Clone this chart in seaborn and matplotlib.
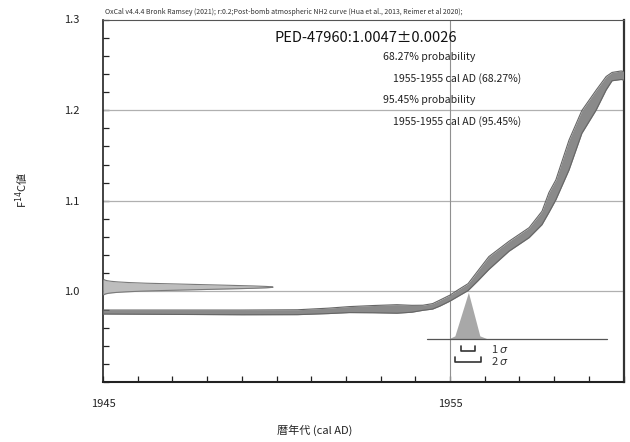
import numpy as np
import pandas as pd
import matplotlib
matplotlib.use("Agg")
import matplotlib.pyplot as plt
import seaborn as sns
from matplotlib.ticker import MultipleLocator, FixedLocator

# ---- data ----
cal_year = [1945.0, 1947.0, 1949.0, 1950.6, 1951.5, 1952.1, 1952.8, 1953.47, 1953.9,
            1954.22, 1954.5, 1954.71, 1955.0, 1955.25, 1955.52, 1955.8, 1956.12, 1956.7,
            1957.28, 1957.65, 1957.85, 1958.05, 1958.43, 1958.8, 1959.21, 1959.5,
            1959.67, 1959.93, 1960.0]
cal_f14c = [0.9772, 0.9770, 0.9768, 0.9770, 0.9785, 0.9799, 0.9804, 0.9806, 0.9808,
            0.9819, 0.9835, 0.9871, 0.9926, 0.9985, 1.0047, 1.0170, 1.0313, 1.0498,
            1.0648, 1.0810, 1.0980, 1.1120, 1.1505, 1.1870, 1.2110, 1.2297,
            1.2370, 1.2385, 1.2380]
cal_sigma = [0.0022, 0.0024, 0.0026, 0.0027, 0.0030, 0.0033, 0.0040, 0.0047, 0.0038,
             0.0028, 0.0030, 0.0033, 0.0033, 0.0036, 0.0038, 0.0055, 0.0071, 0.0055,
             0.0055, 0.0074, 0.0110, 0.0110, 0.0165, 0.0126, 0.0110, 0.0074,
             0.0046, 0.0047, 0.0047]

sample_name = "PED-47960"
sample_mean = 1.0047
sample_sigma = 0.0026

post_year = [1954.94, 1955.14, 1955.53, 1955.86, 1956.10]
post_prob = [0.0, 0.07, 1.0, 0.07, 0.0]

range_1s = (1955.32, 1955.72)
range_2s = (1955.14, 1955.89)

title_text = "OxCal v4.4.4 Bronk Ramsey (2021); r:0.2;Post-bomb atmospheric NH2 curve (Hua et al., 2013, Reimer et al 2020);"
info_lines = ["68.27% probability", "1955-1955 cal AD (68.27%)",
              "95.45% probability", "1955-1955 cal AD (95.45%)"]

# ---- style ----
sns.set_theme(style="white")
plt.rcParams['font.family'] = ['Noto Sans CJK JP', 'DejaVu Sans']
plt.rcParams['axes.unicode_minus'] = False

W, H = 630, 442
fig = plt.figure(figsize=(W / 100, H / 100), dpi=100)
L, R, T, B = 103, 623.5, 19.5, 382
ax = fig.add_axes([L / W, 1 - B / H, (R - L) / W, (B - T) / H])
ax.set_xlim(1945, 1960)
ax.set_ylim(0.9, 1.3)

# grid lines
for g in [1.0, 1.1, 1.2]:
    ax.axhline(g, color="#b0b0b0", lw=0.9, zorder=1)
ax.axvline(1955, color="#909090", lw=0.8, zorder=1)

# calibration curve band
df = pd.DataFrame({"year": cal_year, "f": cal_f14c, "s": cal_sigma})
df["lo"] = df["f"] - df["s"]
df["hi"] = df["f"] + df["s"]
ax.fill_between(df["year"], df["lo"], df["hi"], color="#8a8a8a", zorder=3, lw=0)
sns.lineplot(data=df, x="year", y="lo", ax=ax, color="#666666", lw=0.8, zorder=4,
             sort=False, estimator=None)
sns.lineplot(data=df, x="year", y="hi", ax=ax, color="#666666", lw=0.8, zorder=4,
             sort=False, estimator=None)

# measured value distribution along the y axis
yy = np.linspace(sample_mean - 3.2 * sample_sigma, sample_mean + 3.2 * sample_sigma, 200)
dens = np.exp(-0.5 * ((yy - sample_mean) / sample_sigma) ** 2)
xx = 1945 + 4.9 * dens
ax.fill_betweenx(yy, 1945, xx, color="#bdbdbd", zorder=5, lw=0)
sns.lineplot(x=xx, y=yy, ax=ax, color="#7a7a7a", lw=0.8, zorder=6, sort=False,
             estimator=None)

# calibrated distribution
base = 0.9473
scale = 0.0516
pdf = pd.DataFrame({"year": post_year, "p": post_prob})
pdf["y"] = base + pdf["p"] * scale
ax.fill_between(pdf["year"], base, pdf["y"], color="#a8a8a8", zorder=5, lw=0)
sns.lineplot(x=[1954.34, 1959.52], y=[base, base], ax=ax, color="#555555", lw=0.9,
             zorder=6, estimator=None)

# sigma range brackets
for (a, b), yb, lab in [(range_1s, 0.9344, r"1 $\sigma$"), (range_2s, 0.9220, r"2 $\sigma$")]:
    tick = 0.0055
    sns.lineplot(x=[a, a, b, b], y=[yb + tick, yb, yb, yb + tick], ax=ax,
                 color="#333333", lw=1.2, sort=False, estimator=None, zorder=6)
    ax.text(1956.18, yb + 0.0015, lab, fontsize=8, va="center", ha="left",
            color="#333333")

# ticks
ax.xaxis.set_major_locator(FixedLocator([1945, 1955]))
ax.xaxis.set_minor_locator(MultipleLocator(1))
ax.yaxis.set_major_locator(FixedLocator([1.0, 1.1, 1.2, 1.3]))
ax.yaxis.set_minor_locator(MultipleLocator(0.02))
ax.set_yticklabels(["1.0", "1.1", "1.2", "1.3"])
ax.set_xticklabels(["1945", "1955"])
ax.tick_params(axis="both", which="both", direction="in", length=4, width=0.9,
               color="#222222", labelsize=8, labelcolor="#222222")
ax.tick_params(axis="y", which="both", left=True, right=False, pad=17)
ax.tick_params(axis="x", which="both", bottom=True, top=False, pad=12)
ax.set_xlabel("")
ax.set_ylabel("")

for side, c, w in [("left", "#222222", 1.2), ("bottom", "#222222", 1.5),
                   ("right", "#333333", 1.6), ("top", "#555555", 0.8)]:
    ax.spines[side].set_visible(True)
    ax.spines[side].set_color(c)
    ax.spines[side].set_linewidth(w)

# texts
def px(x, y):
    return x / W, 1 - y / H

fig.text(*px(105, 12), title_text, fontsize=5, va="center", ha="left", color="#333333")
fig.text(*px(275, 38), f"{sample_name}:{sample_mean:.4f}±{sample_sigma:.4f}",
         fontsize=10.5, va="center", ha="left", color="#111111")
for (x0, y0), s in zip([(383, 57), (393, 79), (383, 100), (393, 122)], info_lines):
    fig.text(*px(x0, y0), s, fontsize=7.6, va="center", ha="left", color="#222222")

fig.text(*px(315, 430), "暦年代 (cal AD)", fontsize=8, va="center", ha="center", color="#222222")
fig.text(*px(22, 190), "F$^{14}$C値", fontsize=8, va="center", ha="center",
         rotation=90, color="#222222")

fig.savefig("out.png", dpi=100, facecolor="white")
